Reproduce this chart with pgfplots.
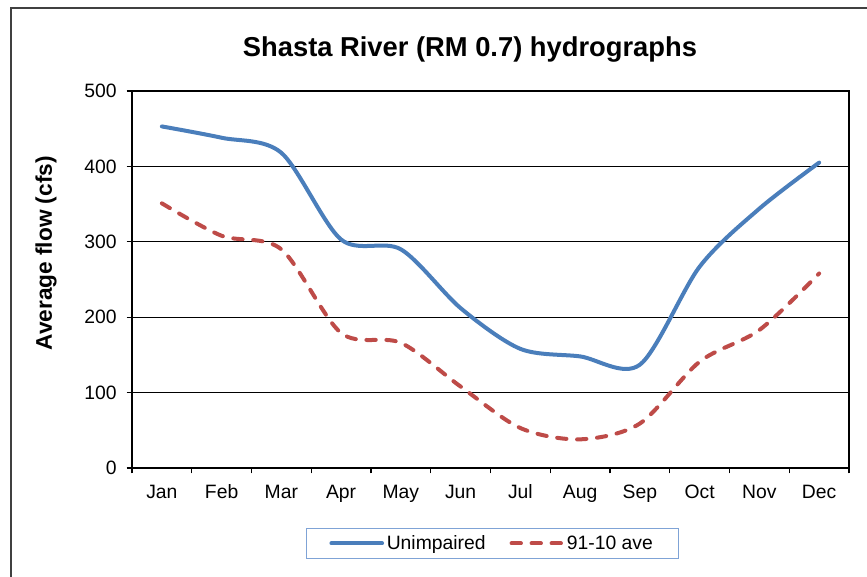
\documentclass[border=0pt]{standalone}
\usepackage{pgfplots}
\pgfplotsset{compat=1.18}
\usepackage{fontspec}
\setmainfont{Liberation Sans}
\definecolor{ublue}{HTML}{4A7EBB}
\definecolor{ured}{HTML}{BE4B48}
\definecolor{legbd}{HTML}{7FA3D6}
\begin{document}
\begin{tikzpicture}
\useasboundingbox (-99pt,-81.75pt) rectangle (551.25pt,351pt);
\draw[line width=0.8pt, black!75] (-90.75pt,-90pt) -- (-90.75pt,345pt) -- (560pt,345pt);
\begin{axis}[
  scale only axis,
  width=537.75pt, height=282.75pt,
  xmin=0.5, xmax=12.5, ymin=0, ymax=500,
  xtick={0.5,1.5,...,12.5},
  x tick label as interval,
  xticklabels={Jan,Feb,Mar,Apr,May,Jun,Jul,Aug,Sep,Oct,Nov,Dec},
  ytick={0,100,...,500},
  tick align=outside,
  major tick length=4pt,
  tick style={black, line width=0.8pt},
  axis line style={line width=0.8pt},
  xtick pos=bottom, ytick pos=left,
  ymajorgrids, grid style={black, line width=0.8pt},
  tick label style={font=\fontsize{14.5pt}{16pt}\selectfont},
  /pgf/number format/assume math mode=true,
  xticklabel style={yshift=-5pt},
  yticklabel style={xshift=-4pt},
  title={\fontsize{20.5pt}{24pt}\selectfont\bfseries Shasta River (RM 0.7) hydrographs},
  title style={at={(0.4714,1)}, anchor=center, yshift=25pt},
  legend columns=2,
  legend style={at={(0.5028,-0.2002)}, anchor=center, draw=legbd, line width=0.8pt,
    font=\fontsize{14.5pt}{16pt}\selectfont, inner xsep=17pt, inner ysep=3pt,
    /tikz/every even column/.append style={column sep=16pt}},
  legend image code/.code={\draw[#1, line width=3pt] (0pt,0pt) -- (38pt,0pt);},
  clip=false,
]
\addplot[ublue, line width=3pt, smooth, tension=0.5, line cap=round] coordinates {
 (1,453) (2,438) (3,418) (4,303) (5,290) (6,212) (7,158) (8,148) (9,137) (10,267) (11,344) (12,405)};
\addlegendentry{Unimpaired}
\addplot[ured, line width=3pt, smooth, tension=0.5, line cap=round, dash pattern=on 7pt off 8pt] coordinates {
 (1,351) (2,308) (3,290) (4,179) (5,166) (6,108) (7,53) (8,38) (9,59) (10,141) (11,183) (12,258)};
\addlegendentry{91-10 ave}
\draw[line width=1.6pt, black] (rel axis cs:0,1) -- (rel axis cs:0,0) -- (rel axis cs:1,0);
\end{axis}
\node[rotate=90, font=\fontsize{17pt}{19pt}\selectfont\bfseries] at (-64.5pt,161pt) {Average flow (cfs)};
\end{tikzpicture}
\end{document}
